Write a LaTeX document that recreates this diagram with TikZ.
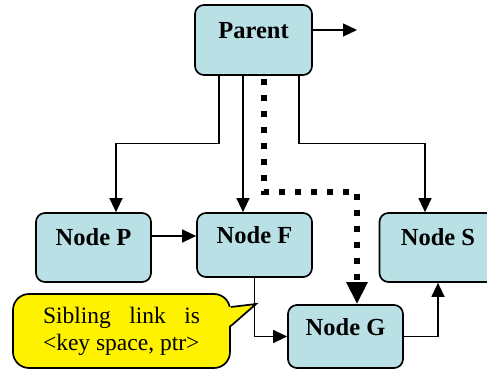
\documentclass[tikz,border=0pt]{standalone}
\usepackage{fontspec}
\setmainfont{Liberation Serif}
\usetikzlibrary{arrows.meta}
\definecolor{nodefill}{RGB}{185,224,228}
\tikzset{
    mynode/.style = {rectangle, rounded corners=9pt, line width=1.7pt, draw=black, fill=nodefill,
        align=center, text height=17pt, text depth=20pt, font=\fontsize{24.5}{28}\selectfont\bfseries},
    notebox/.style = {rectangle, rounded corners=16pt, line width=1.7pt, draw=black, fill=yellow,
        minimum width=217pt, minimum height=74pt, align=left,
        font=\fontsize{23.5}{27}\selectfont},
    edgen/.style = {-{Triangle[length=14pt,width=13pt]}, line width=1.3pt},
    edged/.style = {-{Triangle[length=22pt,width=20pt]}, line width=6.5pt, dash pattern=on 6pt off 10pt}, % dotted
}
\begin{document}
\begin{tikzpicture}[x=1pt,y=-1pt]
\useasboundingbox (0,0) rectangle (487,371);
%
\node[mynode, minimum width=117pt, minimum height=70pt] at (253.5, 40) (parent) {Parent};
\node[mynode, minimum width=115pt, minimum height=69pt] at (93.5, 247.5) (nodep) {Node P};
\node[mynode, minimum width=115pt, minimum height=64pt] at (254.5, 245) (nodef) {Node F};
\node[mynode, minimum width=117pt, minimum height=69pt] at (438, 247.5) (nodes) {Node S};
\node[mynode, minimum width=115pt, minimum height=63pt] at (345.5, 336.5) (nodeg) {Node G};
\coordinate (out) at (357, 30);
%
\draw[edgen] (parent.east |- out) -- (out);
\draw[edgen] ([xshift=-34.5pt]parent.south) -- ++(0,68) -| ([xshift=22.5pt]nodep.north);
\draw[edgen] ([xshift=-10.5pt]parent.south) -- ([xshift=-10.5pt]parent.south |- nodef.north);
\draw[edgen] ([xshift=45.5pt]parent.south) -- ++(0,68) -| ([xshift=-13pt]nodes.north);
\draw[edged] ([xshift=10.5pt,yshift=-3pt]parent.south) -- ++(0,113) -| ([xshift=11.5pt]nodeg.north);
\draw[edgen] ([yshift=11.5pt]nodep.east) -- ([yshift=11.5pt]nodep.east -| nodef.west);
\draw[edgen] (nodef.south) |- (nodeg.west);
\draw[edgen] (nodeg.east) -| (nodes.south);
%
\node[notebox] at (121.5, 331) (note) {\makebox[157pt][s]{Sibling link is}\\<key space, ptr>};
\coordinate (tip) at (256, 304);
\fill[yellow] ([xshift=-3pt,yshift=24pt]note.east) -- (tip) -- ([xshift=-3pt,yshift=4pt]note.east) -- cycle;
\draw[line width=1.7pt, line join=miter] ([yshift=24pt]note.east) -- (tip) -- ([yshift=5pt]note.east);

\end{tikzpicture}
\end{document}
